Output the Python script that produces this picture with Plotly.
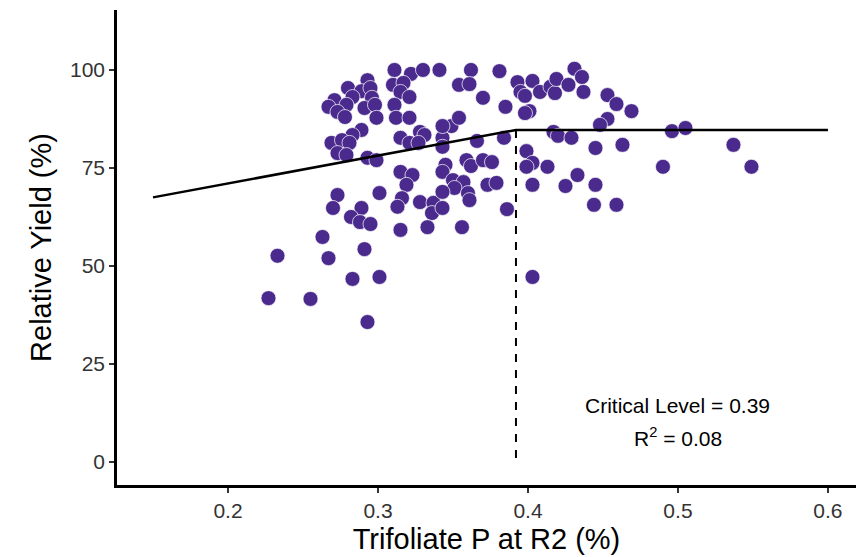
import plotly.graph_objects as go

# Trifoliate P at R2 (%) and relative yield (%)
p_conc = [
    0.293, 0.280, 0.289, 0.295, 0.283, 0.296, 0.271, 0.267, 0.279, 0.291, 0.298, 0.273,
    0.278, 0.299, 0.289, 0.283, 0.269, 0.276, 0.281, 0.273, 0.279, 0.293, 0.299,
    0.311, 0.322, 0.330, 0.341, 0.310, 0.317, 0.315, 0.321, 0.311, 0.312, 0.321, 0.315,
    0.321, 0.328, 0.331, 0.327, 0.343, 0.343, 0.349, 0.343, 0.354,
    0.362, 0.381, 0.354, 0.361, 0.370, 0.385, 0.393, 0.403, 0.395, 0.398, 0.408, 0.415,
    0.418, 0.419, 0.401, 0.398, 0.366, 0.384, 0.399, 0.417, 0.420, 0.429, 0.359, 0.362,
    0.370, 0.376, 0.403, 0.413, 0.399,
    0.431, 0.436, 0.427, 0.437, 0.453, 0.459, 0.469, 0.453, 0.448, 0.496, 0.505, 0.445,
    0.463, 0.537, 0.490, 0.549, 0.433, 0.425, 0.445, 0.444, 0.459,
    0.315, 0.323, 0.319, 0.316, 0.313, 0.328, 0.337, 0.336, 0.315, 0.333, 0.345, 0.343,
    0.350, 0.357, 0.351, 0.343, 0.360, 0.361, 0.373, 0.379, 0.343, 0.356, 0.386, 0.403,
    0.403,
    0.273, 0.301, 0.270, 0.289, 0.282, 0.288, 0.295, 0.263, 0.233, 0.267, 0.291, 0.283,
    0.301, 0.227, 0.255, 0.293,
]
rel_yield = [
    97.4, 95.4, 94.6, 95.4, 93.1, 92.9, 92.3, 90.6, 91.1, 90.3, 91.1, 89.3,
    88.0, 87.8, 84.7, 83.4, 81.4, 82.1, 81.4, 78.8, 78.3, 77.6, 77.0,
    100.0, 99.0, 100.0, 100.0, 96.2, 96.7, 94.4, 93.1, 91.1, 87.8, 87.8, 82.7,
    81.4, 84.2, 83.4, 81.4, 82.7, 80.4, 85.7, 85.7, 87.8,
    100.0, 99.7, 96.2, 96.4, 92.9, 90.6, 96.9, 97.2, 94.4, 93.4, 94.4, 95.7,
    94.1, 97.7, 89.5, 89.0, 81.9, 82.7, 79.3, 84.2, 83.2, 82.7, 77.0, 75.5,
    77.0, 76.5, 76.3, 75.3, 75.3,
    100.3, 98.2, 96.2, 94.4, 93.6, 91.3, 89.5, 87.5, 86.0, 84.4, 85.2, 80.1,
    80.9, 80.9, 75.3, 75.3, 73.2, 70.4, 70.7, 65.6, 65.6,
    74.0, 73.2, 70.7, 67.3, 65.1, 66.3, 66.1, 63.5, 59.2, 59.9, 75.8, 74.0,
    71.9, 71.4, 69.9, 68.9, 68.6, 66.8, 70.7, 71.2, 64.8, 59.9, 64.5, 70.7,
    47.2,
    68.1, 68.6, 64.8, 64.8, 62.5, 61.2, 60.7, 57.4, 52.6, 52.0, 54.3, 46.7,
    47.2, 41.8, 41.6, 35.7,
]

# Linear-plateau fit
fit_x = [0.15, 0.392, 0.60]
fit_y = [67.5, 84.7, 84.7]
critical_level = 0.392
plateau = 84.7

x_ticks = [0.2, 0.3, 0.4, 0.5, 0.6]
y_ticks = [0, 25, 50, 75, 100]

purple = "#4B2A8E"
fnt = "Liberation Sans, Arial, sans-serif"

fig = go.Figure()
fig.add_trace(go.Scatter(
    x=p_conc, y=rel_yield, mode="markers",
    marker=dict(size=15, color=purple, line=dict(color="rgba(255,255,255,0.7)", width=1)),
    showlegend=False, hoverinfo="skip"))
fig.add_trace(go.Scatter(
    x=fit_x, y=fit_y, mode="lines", line=dict(color="black", width=2.5),
    showlegend=False, hoverinfo="skip"))
fig.add_trace(go.Scatter(
    x=[critical_level, critical_level], y=[plateau, 0], mode="lines",
    line=dict(color="black", width=2, dash="8px,8px"),
    showlegend=False, hoverinfo="skip"))

fig.add_annotation(x=0.5, y=14.5, text="Critical Level = 0.39", showarrow=False,
                   font=dict(family=fnt, size=21, color="black"))
fig.add_annotation(x=0.5, y=6.4, text="R<sup>2</sup> = 0.08", showarrow=False,
                   font=dict(family=fnt, size=21, color="black"))

fig.update_layout(
    width=856, height=557,
    margin=dict(l=117, r=0, t=10, b=72),
    plot_bgcolor="white", paper_bgcolor="white",
    font=dict(family=fnt),
    xaxis=dict(range=[0.126, 0.6187], tickvals=x_ticks, ticktext=[str(v) for v in x_ticks],
               showgrid=False, zeroline=False, showline=True, linecolor="black", linewidth=2.5,
               ticks="outside", ticklen=5, tickcolor="#333333", tickwidth=1.5,
               tickfont=dict(size=21, color="#333333", family=fnt),
               title=dict(text="Trifoliate P at R2 (%)", font=dict(size=29, color="black", family=fnt),
                          standoff=8)),
    yaxis=dict(range=[-5.87, 115.3], tickvals=y_ticks, ticktext=[str(v) for v in y_ticks],
               showgrid=False, zeroline=False, showline=True, linecolor="black", linewidth=2.5,
               ticks="outside", ticklen=5, tickcolor="#333333", tickwidth=1.5,
               tickfont=dict(size=21, color="#333333", family=fnt),
               title=dict(text="Relative Yield (%)", font=dict(size=29, color="black", family=fnt),
                          standoff=10)),
)

fig.write_html("out.html")
